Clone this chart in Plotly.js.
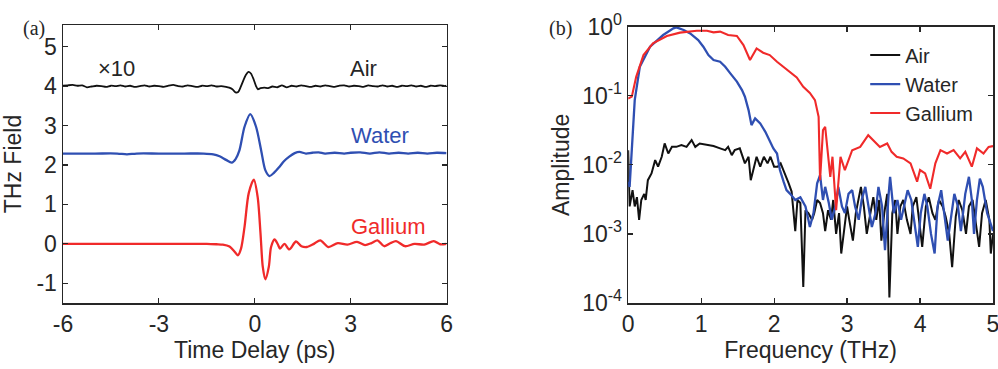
<!DOCTYPE html>
<html><head><meta charset="utf-8">
<script src="https://cdn.plot.ly/plotly-3.0.1.min.js"></script>
<style>html,body{margin:0;padding:0;background:#fff}#chart{width:998px;height:369px}</style>
</head><body><div id="chart"></div>
<script>
// ---- Panel (a): time-domain THz field ----
const airT = [-6.0,-5.85,-5.7,-5.55,-5.4,-5.25,-5.1,-4.95,-4.8,-4.65,
-4.5,-4.35,-4.2,-4.05,-3.9,-3.75,-3.6,-3.45,-3.3,-3.15,
-3.0,-2.85,-2.7,-2.55,-2.4,-2.25,-2.1,-1.95,-1.8,-1.65,
-1.5,-1.35,-1.2,-1.05,-0.9,-0.8,-0.7,-0.6,-0.52,-0.44,
-0.36,-0.28,-0.2,-0.12,-0.04,0.04,0.1,0.18,0.3,0.42,
0.55,0.7,0.85,1.0,1.15,1.3,1.45,1.6,1.75,1.9,
2.05,2.2,2.35,2.5,2.65,2.8,2.95,3.1,3.25,3.4,
3.55,3.7,3.85,4.0,4.15,4.3,4.45,4.6,4.75,4.9,
5.05,5.2,5.35,5.5,5.65,5.8,5.95,6.0];
const airE = [4.01,4.02,4.03,4.01,4.02,3.97,3.99,4.01,4.00,3.98,
4.01,4.00,4.02,3.99,4.01,3.98,4.00,4.02,3.99,4.01,
4.00,3.98,4.01,4.03,4.00,3.99,4.02,4.00,3.98,4.01,
4.00,4.02,3.99,4.00,3.98,3.96,3.92,3.84,3.85,3.98,
4.14,4.28,4.36,4.32,4.18,4.00,3.92,3.95,3.96,3.95,
3.99,3.97,4.02,3.97,4.01,3.99,4.02,4.00,3.98,4.01,
3.99,4.02,4.00,3.98,4.01,4.02,3.99,4.01,4.00,3.98,
4.02,4.00,3.99,4.02,3.99,4.01,3.98,4.01,4.00,4.02,
3.99,4.01,3.98,4.01,4.00,4.02,4.00,4.01];

const waterT = [-6,-5,-4.3,-4.0,-3.7,-3,-2.2,-1.6,-1.3,-1.1,
-0.9,-0.72,-0.6,-0.48,-0.32,-0.14,0.04,0.2,0.33,0.46,
0.6,0.77,0.92,1.08,1.25,1.4,1.6,1.8,2.0,2.2,
2.5,2.8,3.0,3.3,3.6,3.9,4.2,4.5,4.8,5.1,
5.4,5.7,6.0];
const waterE = [2.29,2.29,2.29,2.27,2.29,2.29,2.29,2.29,2.27,2.22,
2.13,2.06,2.15,2.37,2.97,3.29,2.97,2.37,1.87,1.72,
1.80,1.95,2.10,2.21,2.30,2.33,2.29,2.31,2.32,2.29,
2.31,2.29,2.31,2.32,2.29,2.32,2.29,2.31,2.29,2.31,
2.29,2.31,2.30];

const galT = [-6,-4,-2,-1.5,-1.2,-1.0,-0.79,-0.63,-0.53,-0.43,
-0.32,-0.19,-0.03,0.09,0.18,0.25,0.33,0.44,0.51,0.62,
0.72,0.79,0.93,1.08,1.29,1.46,1.63,1.85,2.05,2.3,
2.6,2.9,3.2,3.45,3.65,3.84,4.05,4.25,4.42,4.7,
5.0,5.3,5.6,5.8,6.0];
const galE = [0,0,0,0,-0.01,-0.02,-0.07,-0.2,-0.29,-0.12,
0.43,1.28,1.63,1.19,0.26,-0.58,-0.9,-0.58,-0.08,0.11,
-0.01,-0.12,0.0,-0.14,0.06,-0.06,-0.08,0.0,0.09,-0.08,
0.02,-0.02,0.05,-0.03,0.02,0.09,-0.06,0.02,0.07,-0.06,
0.0,-0.02,0.07,-0.01,0.0];

const timeTickVals = [-6,-3,0,3,6];
const timeTickText = ['-6','-3','0','3','6'];
const fieldTickVals = [-1,0,1,2,3,4,5];
const fieldTickText = ['-1','0','1','2','3','4','5'];

// ---- Panel (b): spectra ----
const airF = [0,0.02,0.06,0.09,0.12,0.15,0.18,0.22,0.24,0.27,
0.32,0.37,0.41,0.46,0.50,0.55,0.60,0.66,0.73,0.80,
0.87,0.92,0.98,1.08,1.17,1.26,1.33,1.37,1.42,1.46,
1.53,1.60,1.65,1.68,1.73,1.76,1.81,1.86,1.91,1.95,
2.00,2.05,2.09,2.15,2.20,2.24,2.29,2.32,2.36,2.40,
2.43,2.47,2.52,2.55,2.59,2.63,2.67,2.70,2.74,2.78,
2.81,2.85,2.89,2.92,2.96,3.00,3.03,3.08,3.12,3.16,
3.19,3.23,3.27,3.32,3.36,3.40,3.44,3.47,3.51,3.55,
3.58,3.62,3.66,3.69,3.73,3.77,3.82,3.87,3.90,3.95,
3.98,4.03,4.08,4.12,4.17,4.21,4.26,4.31,4.35,4.40,
4.44,4.49,4.53,4.58,4.63,4.67,4.72,4.76,4.81,4.85,
4.90,4.95,4.97,5.00];
const airA = [0.0163,0.0025,0.0043,0.0025,0.0034,0.0016,0.0031,0.0038,0.0031,0.0060,
0.0075,0.0117,0.0094,0.0131,0.0204,0.0146,0.0182,0.0182,0.0193,0.0182,
0.0228,0.0182,0.0204,0.0193,0.0187,0.0173,0.0163,0.0182,0.0138,0.0163,
0.0173,0.0105,0.0131,0.0060,0.0105,0.0131,0.0094,0.0131,0.0105,0.0131,
0.0094,0.0094,0.0105,0.0075,0.0054,0.0041,0.0011,0.0031,0.0028,0.00017,
0.0022,0.0020,0.0016,0.0020,0.0031,0.0028,0.0020,0.0011,0.0022,0.0016,
0.0031,0.0010,0.0020,0.00052,0.00126,0.0025,0.0016,0.0008,0.0020,0.0034,
0.0048,0.0025,0.0010,0.0020,0.0034,0.0016,0.0031,0.0008,0.0020,0.0038,
0.00012,0.0020,0.0031,0.0010,0.0025,0.0031,0.0016,0.0010,0.0025,0.0034,
0.0018,0.00065,0.0025,0.0034,0.0020,0.0016,0.0031,0.0025,0.0018,0.0010,
0.00033,0.0018,0.0031,0.0022,0.0010,0.0025,0.0031,0.0016,0.00065,0.0020,
0.0031,0.0016,0.00052,0.0010];

const waterF = [0,0.02,0.09,0.16,0.30,0.48,0.62,0.66,0.76,0.85,
0.96,1.03,1.10,1.17,1.26,1.33,1.40,1.49,1.56,1.60,
1.65,1.69,1.74,1.81,1.88,1.94,1.99,2.04,2.08,2.13,
2.17,2.22,2.29,2.36,2.43,2.47,2.49,2.54,2.59,2.63,
2.67,2.70,2.75,2.79,2.84,2.88,2.93,2.97,3.02,3.07,
3.11,3.16,3.20,3.25,3.29,3.34,3.39,3.43,3.48,3.52,
3.57,3.59,3.64,3.69,3.74,3.78,3.83,3.88,3.92,3.97,
4.01,4.06,4.10,4.15,4.20,4.24,4.29,4.33,4.38,4.42,
4.47,4.52,4.56,4.62,4.67,4.71,4.74,4.78,4.82,4.86,
4.92,5.00];
const waterA = [0.0057,0.0048,0.0865,0.263,0.513,0.757,0.946,0.978,0.895,0.80,
0.641,0.513,0.388,0.329,0.311,0.263,0.211,0.160,0.121,0.0968,
0.062,0.0376,0.0469,0.0397,0.0301,0.0228,0.0173,0.0146,0.0084,0.0057,
0.0043,0.0038,0.0031,0.0034,0.0025,0.0016,0.00126,0.0020,0.0054,0.0071,
0.0031,0.0048,0.0028,0.0016,0.0025,0.0048,0.0025,0.0020,0.0038,0.0043,
0.0025,0.0016,0.0031,0.0048,0.0028,0.00126,0.0020,0.0048,0.0025,0.00058,
0.0038,0.0067,0.0020,0.0031,0.0016,0.0025,0.0043,0.0031,0.0016,0.00065,
0.0020,0.0038,0.0025,0.0010,0.00052,0.0025,0.0043,0.0020,0.0008,0.0016,
0.0038,0.0025,0.0011,0.0038,0.0067,0.0031,0.0010,0.0031,0.0063,0.0048,
0.0020,0.0011];

const galF = [0,0.05,0.11,0.21,0.34,0.53,0.71,0.94,1.08,1.17,
1.26,1.37,1.49,1.58,1.67,1.76,1.85,1.94,2.04,2.13,
2.22,2.31,2.40,2.49,2.56,2.61,2.63,2.67,2.70,2.73,
2.77,2.80,2.85,2.91,2.97,3.07,3.18,3.29,3.36,3.45,
3.55,3.61,3.68,3.77,3.87,3.96,4.00,4.07,4.14,4.21,
4.28,4.37,4.46,4.55,4.62,4.71,4.78,4.87,4.94,5.00];
const galA = [0.091,0.097,0.188,0.388,0.573,0.733,0.819,0.875,0.875,0.828,
0.847,0.757,0.733,0.542,0.329,0.485,0.420,0.388,0.311,0.263,
0.223,0.184,0.135,0.110,0.0865,0.0496,0.0060,0.0318,0.0356,0.0163,
0.0067,0.0131,0.0022,0.0131,0.0084,0.0163,0.0182,0.0269,0.0228,0.0182,
0.0204,0.0154,0.0131,0.0124,0.0105,0.0057,0.0084,0.0075,0.0045,0.0105,
0.0163,0.0146,0.0163,0.0124,0.0154,0.0094,0.0173,0.0146,0.0182,0.0187];

const freqTickVals = [0,1,2,3,4,5];
const freqTickText = ['0','1','2','3','4','5'];
const ampTickVals = [1,0.1,0.01,0.001,0.0001];
const ampTickText = ['10<sup>0</sup>','10<sup>-1</sup>','10<sup>-2</sup>','10<sup>-3</sup>','10<sup>-4</sup>'];
const seriesNames = ['Air','Water','Gallium'];

// ---- styling ----
const FONT = 'Liberation Sans, Arial, Helvetica, sans-serif';
const INK = '#262626';
const COLORS = {air:'#111111', water:'#2f4fb2', gal:'#f02a2a'};
const TS = 23;

function axisBase(){
  return {showline:true, linecolor:INK, linewidth:1.5, mirror:'ticks', ticks:'inside',
    ticklen:5, tickwidth:1.2, tickcolor:INK, showgrid:false, zeroline:false,
    tickfont:{family:FONT, size:TS, color:INK}, automargin:false, ticklabeloverflow:'allow'};
}

const traces = [
  {x:airT, y:airE, xaxis:'x', yaxis:'y', mode:'lines', line:{color:COLORS.air, width:1.8, shape:'spline', smoothing:0.5}, showlegend:false},
  {x:waterT, y:waterE, xaxis:'x', yaxis:'y', mode:'lines', line:{color:COLORS.water, width:2.3, shape:'spline', smoothing:0.8}, showlegend:false},
  {x:galT, y:galE, xaxis:'x', yaxis:'y', mode:'lines', line:{color:COLORS.gal, width:2.3, shape:'spline', smoothing:0.8}, showlegend:false},
  {x:airF, y:airA, xaxis:'x2', yaxis:'y2', mode:'lines', name:seriesNames[0], line:{color:COLORS.air, width:2}},
  {x:waterF, y:waterA, xaxis:'x2', yaxis:'y2', mode:'lines', name:seriesNames[1], line:{color:COLORS.water, width:2.3}},
  {x:galF, y:galA, xaxis:'x2', yaxis:'y2', mode:'lines', name:seriesNames[2], line:{color:COLORS.gal, width:2.1}}
];

const layout = {
  width:998, height:369,
  margin:{l:63, r:5, t:25, b:66},
  paper_bgcolor:'#fff', plot_bgcolor:'#fff',
  font:{family:FONT, color:INK},
  xaxis: Object.assign(axisBase(), {domain:[0,0.4124], range:[-6,6], tickvals:timeTickVals, ticktext:timeTickText, anchor:'y',
    title:{text:'Time Delay (ps)', font:{family:FONT, size:TS, color:INK}, standoff:6}}),
  yaxis: Object.assign(axisBase(), {domain:[0,1], range:[-1.5,5.55], tickvals:fieldTickVals, ticktext:fieldTickText, anchor:'x',
    title:{text:'THz Field', font:{family:FONT, size:TS, color:INK}, standoff:8}}),
  xaxis2: Object.assign(axisBase(), {domain:[0.6077,1], range:[0,5], tickvals:freqTickVals, ticktext:freqTickText, anchor:'y2',
    title:{text:'Frequency (THz)', font:{family:FONT, size:TS, color:INK}, standoff:6}}),
  yaxis2: Object.assign(axisBase(), {domain:[0,0.994], type:'log', range:[-4,0], tickvals:ampTickVals, ticktext:ampTickText, anchor:'x2',
    title:{text:'Amplitude', font:{family:FONT, size:TS, color:INK}, standoff:6}}),
  legend:{x:0.8626, y:0.962, xanchor:'left', yanchor:'top', bgcolor:'rgba(0,0,0,0)', borderwidth:0,
    font:{family:FONT, size:20, color:INK}, itemwidth:30, tracegroupgap:0},
  annotations:[
    {xref:'x', yref:'y', x:-4.33, y:4.45, text:'×10', showarrow:false, font:{family:FONT, size:22, color:INK}},
    {xref:'x', yref:'y', x:3.40, y:4.45, text:'Air', showarrow:false, font:{family:FONT, size:22, color:INK}},
    {xref:'x', yref:'y', x:3.91, y:2.76, text:'Water', showarrow:false, font:{family:FONT, size:22, color:COLORS.water}},
    {xref:'x', yref:'y', x:4.17, y:0.45, text:'Gallium', showarrow:false, font:{family:FONT, size:22, color:COLORS.gal}},
    {xref:'paper', yref:'paper', x:-0.045, y:1.036, text:'(a)', showarrow:false, font:{family:'Liberation Serif, Times New Roman, serif', size:20, color:INK}},
    {xref:'paper', yref:'paper', x:0.5346, y:1.036, text:'(b)', showarrow:false, font:{family:'Liberation Serif, Times New Roman, serif', size:20, color:INK}}
  ]
};

Plotly.newPlot('chart', traces, layout, {displayModeBar:false, staticPlot:true});
</script>
</body></html>
